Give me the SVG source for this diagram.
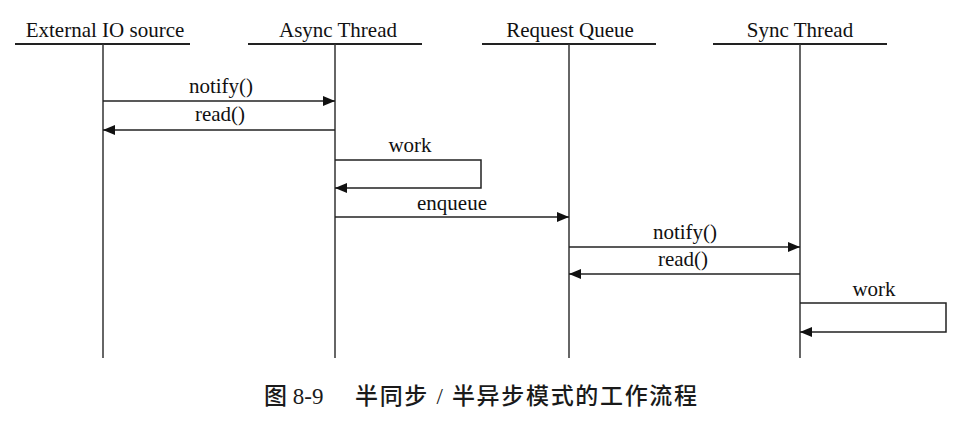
<svg xmlns="http://www.w3.org/2000/svg" width="977" height="421" viewBox="0 0 977 421">
<style>
text{font-family:"Liberation Serif","Times New Roman",serif;font-size:21px;fill:#111;text-anchor:middle}
.hdr{stroke:#222;stroke-width:2}
.life{stroke:#333;stroke-width:1.5}
.msg{stroke:#222;stroke-width:1.5;fill:none}
.cap{font-family:"Liberation Serif","Noto Sans CJK SC",serif;font-size:23px;font-weight:500;fill:#1a1a1a;text-anchor:start}
</style>
<defs>
<marker id="ah" viewBox="0 0 12 10" refX="12" refY="5" markerWidth="12" markerHeight="10" markerUnits="userSpaceOnUse" orient="auto">
<path d="M0,0 L12,5 L0,10 z" fill="#111"/>
</marker>
</defs>
<rect width="977" height="421" fill="#fff"/>
<g id="ext">
<text x="105" y="37">External IO source</text>
<line class="hdr" x1="15" y1="44" x2="190" y2="44"/>
<line class="life" x1="103" y1="44" x2="103" y2="358"/>
</g>
<g id="async">
<text x="338" y="37">Async Thread</text>
<line class="hdr" x1="248" y1="44" x2="422" y2="44"/>
<line class="life" x1="335" y1="44" x2="335" y2="358"/>
</g>
<g id="queue">
<text x="570" y="37">Request Queue</text>
<line class="hdr" x1="482" y1="44" x2="656" y2="44"/>
<line class="life" x1="569" y1="44" x2="569" y2="358"/>
</g>
<g id="sync">
<text x="800" y="37">Sync Thread</text>
<line class="hdr" x1="713" y1="44" x2="887" y2="44"/>
<line class="life" x1="800" y1="44" x2="800" y2="358"/>
</g>
<g id="connectors">
<path class="msg" d="M103,101 H335" marker-end="url(#ah)"/>
<text x="221" y="93">notify()</text>
<path class="msg" d="M335,130 H103" marker-end="url(#ah)"/>
<text x="220" y="121">read()</text>
<path class="msg" d="M335,160 H481 V188 H335" marker-end="url(#ah)"/>
<text x="410" y="152">work</text>
<path class="msg" d="M335,217 H569" marker-end="url(#ah)"/>
<text x="452" y="210">enqueue</text>
<path class="msg" d="M569,247 H800" marker-end="url(#ah)"/>
<text x="685" y="239">notify()</text>
<path class="msg" d="M800,274 H569" marker-end="url(#ah)"/>
<text x="683" y="266">read()</text>
<path class="msg" d="M800,303 H946 V332 H800" marker-end="url(#ah)"/>
<text x="874" y="296">work</text>
</g>
<g id="caption">
<text class="cap" x="264" y="404">图 8-9</text>
<text class="cap" x="355" y="404" textLength="342" lengthAdjust="spacing">半同步 / 半异步模式的工作流程</text>
</g>
</svg>
